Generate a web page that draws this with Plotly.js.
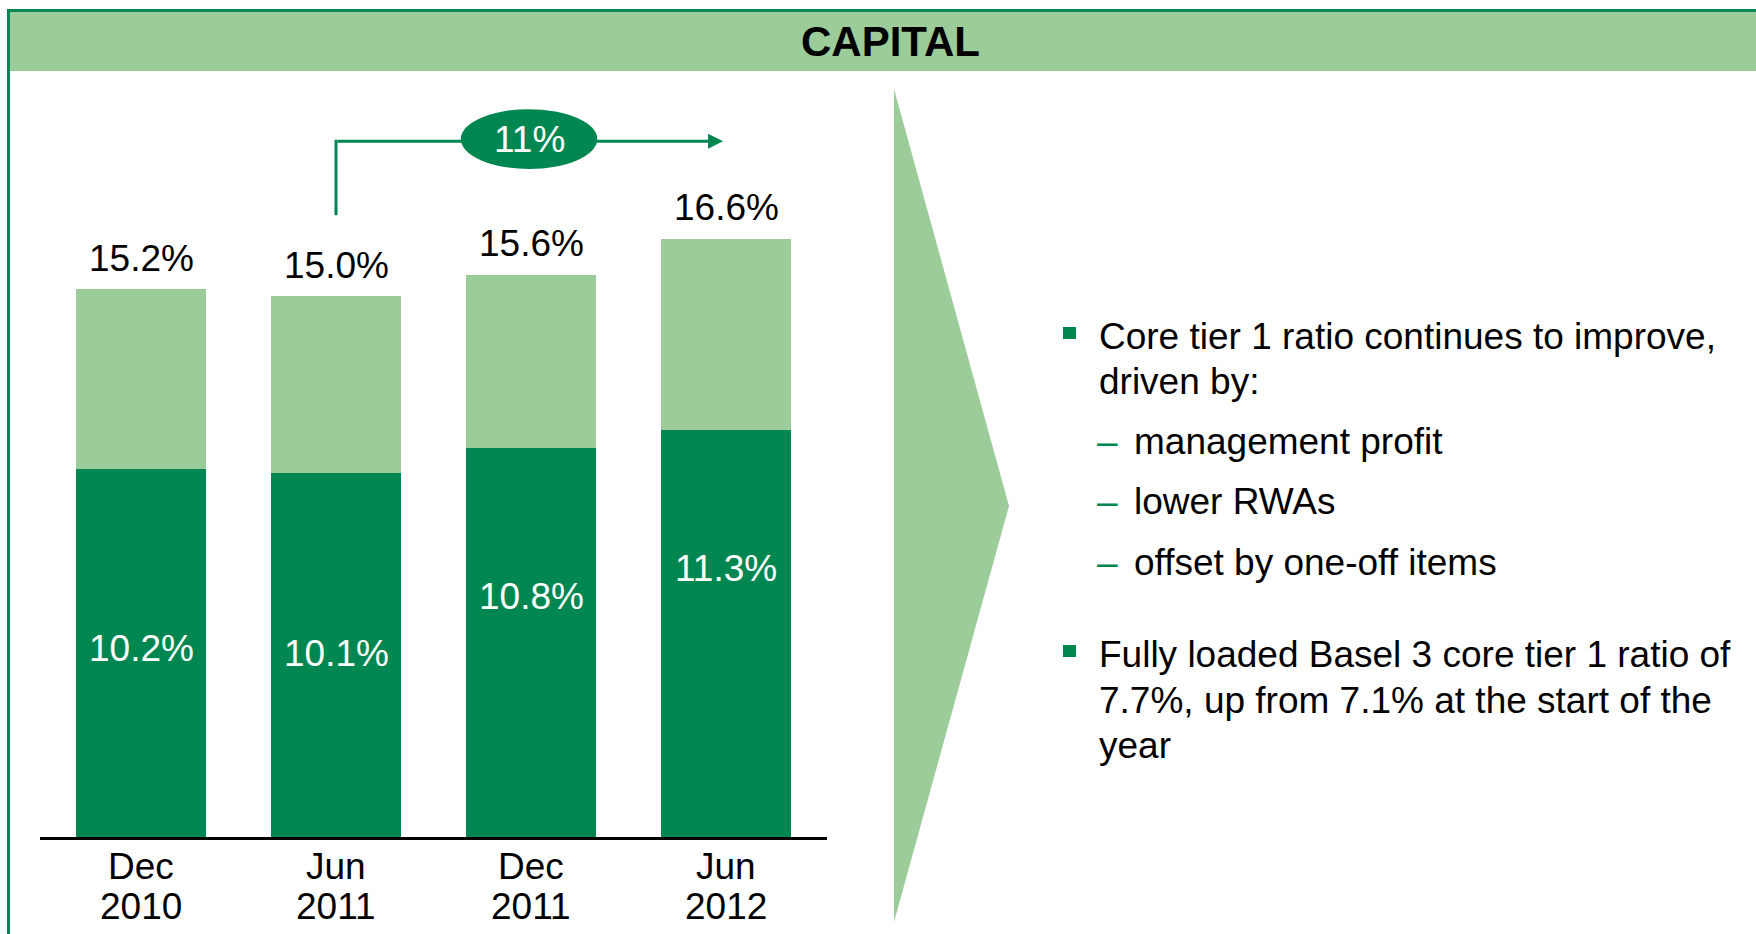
<!DOCTYPE html>
<html>
<head>
<meta charset="utf-8">
<script src="https://cdn.plot.ly/plotly-3.0.1.min.js"></script>
<style>
  html, body { margin: 0; padding: 0; background: #ffffff; }
  #chart { width: 1756px; height: 934px; }
</style>
</head>
<body>
<div id="chart"></div>
<script>
// ---------------- DATA ----------------
const categories = ['Dec 2010', 'Jun 2011', 'Dec 2011', 'Jun 2012'];
const coreTier1 = [10.2, 10.1, 10.8, 11.3];          // dark green segment
const otherTier1 = [5.0, 4.9, 4.8, 5.3];             // light green segment
const totalTier1 = [15.2, 15.0, 15.6, 16.6];         // total labels
const growthLabel = '11%';
const headerTitle = 'CAPITAL';
const bullet1Lines = ['Core tier 1 ratio continues to improve,', 'driven by:'];
const subItems = ['management profit', 'lower RWAs', 'offset by one-off items'];
const bullet2Lines = ['Fully loaded Basel 3 core tier 1 ratio of', '7.7%, up from 7.1% at the start of the', 'year'];

// ---------------- STYLE / LAYOUT ----------------
const W = 1756, H = 934;
const DARK = '#008751';
const LIGHT = '#9BCC9A';
const FONT = 'Liberation Sans, Arial, Helvetica, sans-serif';
const px = x => x / W;
const py = y => 1 - y / H;

// where the white labels sit inside the dark bars (axis units)
const innerLabelY = [5.23, 5.10, 6.66, 7.46];

const traces = [
  {
    type: 'bar', x: categories, y: coreTier1,
    marker: { color: DARK, line: { width: 0 } },
    hoverinfo: 'skip'
  },
  {
    type: 'bar', x: categories, y: otherTier1,
    marker: { color: LIGHT, line: { width: 0 } },
    hoverinfo: 'skip'
  }
];

const annotations = [];

// header title
annotations.push({
  xref: 'paper', yref: 'paper', x: px(891), y: py(41),
  xanchor: 'center', yanchor: 'middle', showarrow: false,
  text: '<b>' + headerTitle + '</b>',
  font: { family: FONT, size: 42, color: '#000000' }
});

// total labels above bars, inner labels, two-line category labels
categories.forEach((c, i) => {
  annotations.push({
    xref: 'x', yref: 'y', x: c, y: totalTier1[i], yshift: 31,
    xanchor: 'center', yanchor: 'middle', showarrow: false,
    text: totalTier1[i].toFixed(1) + '%',
    font: { family: FONT, size: 37, color: '#000000' }
  });
  annotations.push({
    xref: 'x', yref: 'y', x: c, y: innerLabelY[i],
    xanchor: 'center', yanchor: 'middle', showarrow: false,
    text: coreTier1[i].toFixed(1) + '%',
    font: { family: FONT, size: 37, color: '#ffffff' }
  });
  const parts = c.split(' ');
  annotations.push({
    xref: 'x', yref: 'paper', x: c, y: py(866),
    xanchor: 'center', yanchor: 'middle', showarrow: false,
    text: parts[0],
    font: { family: FONT, size: 37, color: '#000000' }
  });
  annotations.push({
    xref: 'x', yref: 'paper', x: c, y: py(906),
    xanchor: 'center', yanchor: 'middle', showarrow: false,
    text: parts[1],
    font: { family: FONT, size: 37, color: '#000000' }
  });
});

// growth arrow (horizontal part with head)
const arrowY = 19.3;
annotations.push({
  xref: 'x', yref: 'y', x: 2.985, y: arrowY,
  axref: 'x', ayref: 'y', ax: 1, ay: arrowY,
  showarrow: true, arrowhead: 2, arrowsize: 1, arrowwidth: 3,
  arrowcolor: DARK, text: ''
});
annotations.push({
  xref: 'x', yref: 'y', x: 1.99, y: 19.36,
  xanchor: 'center', yanchor: 'middle', showarrow: false,
  text: growthLabel,
  font: { family: FONT, size: 37, color: '#ffffff' }
});

// right-hand text
const textX = px(1097);
const bulletRows = [336, 381];
bullet1Lines.forEach((t, i) => annotations.push({
  xref: 'paper', yref: 'paper', x: textX, y: py(bulletRows[i]),
  xanchor: 'left', yanchor: 'middle', showarrow: false, text: t,
  font: { family: FONT, size: 37, color: '#000000' }
}));
const subRows = [441, 502, 562];
subItems.forEach((t, i) => {
  annotations.push({
    xref: 'paper', yref: 'paper', x: px(1095), y: py(subRows[i]),
    xanchor: 'left', yanchor: 'middle', showarrow: false, text: '–',
    font: { family: FONT, size: 37, color: DARK }
  });
  annotations.push({
    xref: 'paper', yref: 'paper', x: px(1132), y: py(subRows[i]),
    xanchor: 'left', yanchor: 'middle', showarrow: false, text: t,
    font: { family: FONT, size: 37, color: '#000000' }
  });
});
const bullet2Rows = [654, 700, 745];
bullet2Lines.forEach((t, i) => annotations.push({
  xref: 'paper', yref: 'paper', x: textX, y: py(bullet2Rows[i]),
  xanchor: 'left', yanchor: 'middle', showarrow: false, text: t,
  font: { family: FONT, size: 37, color: '#000000' }
}));

const shapes = [
  // header band
  { type: 'rect', xref: 'paper', yref: 'paper', x0: px(8), x1: 1, y0: py(71), y1: py(10),
    fillcolor: LIGHT, line: { width: 0 }, layer: 'below' },
  { type: 'line', xref: 'paper', yref: 'paper', x0: px(7), x1: 1, y0: py(10.5), y1: py(10.5),
    line: { color: DARK, width: 3 } },
  // left border of panel
  { type: 'line', xref: 'paper', yref: 'paper', x0: px(8.5), x1: px(8.5), y0: py(9), y1: 0,
    line: { color: DARK, width: 3 } },
  // big chevron
  { type: 'path', xref: 'paper', yref: 'paper',
    path: 'M ' + px(894) + ',' + py(89) + ' L ' + px(1009) + ',' + py(506) +
          ' L ' + px(894) + ',' + py(922) + ' Z',
    fillcolor: LIGHT, line: { width: 0 } },
  // vertical connector of growth arrow
  { type: 'line', xref: 'x', yref: 'y', x0: 1, x1: 1, y0: 17.25, y1: arrowY + 0.04,
    line: { color: DARK, width: 3 } },
  // ellipse with growth label
  { type: 'circle', xref: 'x', yref: 'y', x0: 1.99 - 0.35, x1: 1.99 + 0.35, y0: 19.36 - 0.83, y1: 19.36 + 0.83,
    fillcolor: DARK, line: { width: 0 } },
  // bullet squares
  { type: 'rect', xref: 'paper', yref: 'paper', x0: px(1063), x1: px(1076), y0: py(339), y1: py(327),
    fillcolor: DARK, line: { width: 0 } },
  { type: 'rect', xref: 'paper', yref: 'paper', x0: px(1063), x1: px(1076), y0: py(657), y1: py(645),
    fillcolor: DARK, line: { width: 0 } }
];

const layout = {
  width: W, height: H,
  margin: { l: 0, r: 0, t: 0, b: 0, pad: 0 },
  paper_bgcolor: '#ffffff', plot_bgcolor: 'rgba(0,0,0,0)',
  showlegend: false,
  barmode: 'stack', bargap: 0.333,
  font: { family: FONT },
  xaxis: {
    type: 'category', categoryorder: 'array', categoryarray: categories,
    range: [-0.52, 3.52], domain: [px(39.6), px(827.4)],
    showline: true, linecolor: '#000000', linewidth: 3,
    showticklabels: false, ticks: '', showgrid: false, zeroline: false, fixedrange: true
  },
  yaxis: {
    range: [0, 22], domain: [py(837), py(43.9)],
    visible: false, showgrid: false, zeroline: false, fixedrange: true
  },
  annotations: annotations,
  shapes: shapes
};

Plotly.newPlot('chart', traces, layout, { displayModeBar: false, staticPlot: true });
</script>
</body>
</html>
